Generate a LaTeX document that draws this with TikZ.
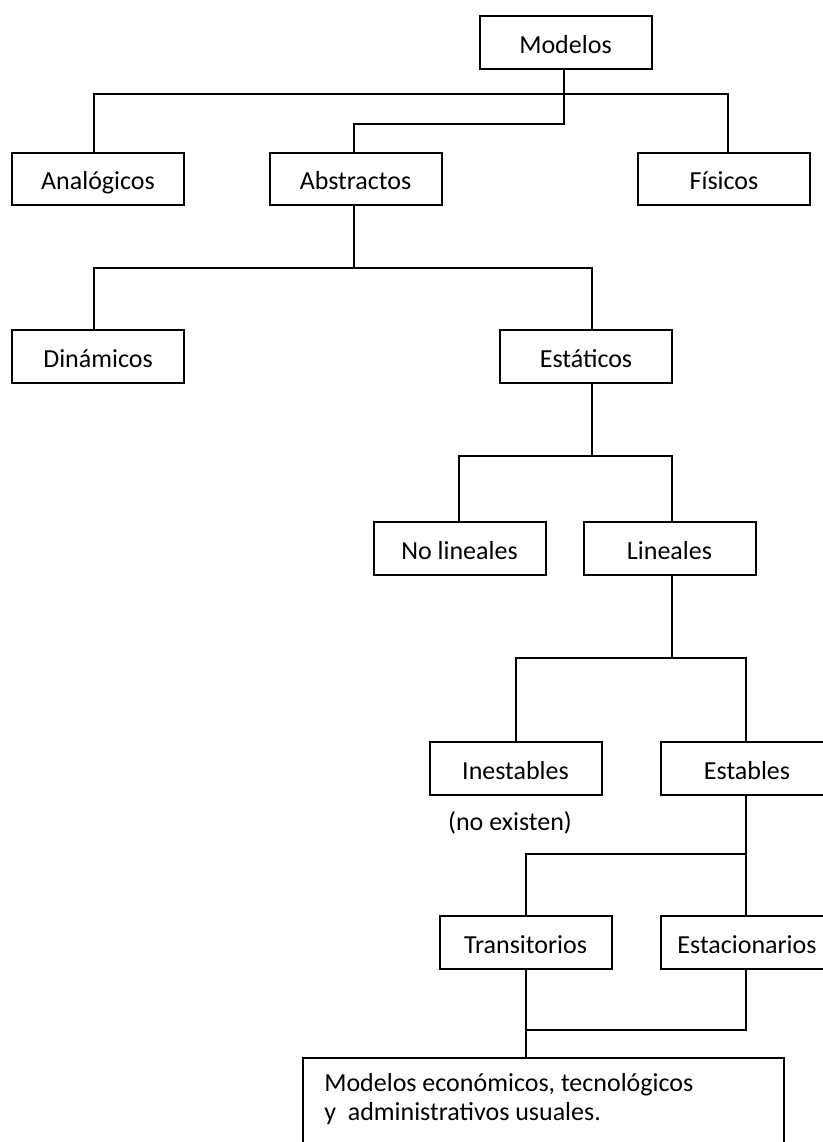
\documentclass[tikz,border=0pt]{standalone}
\usepackage{fontspec}
\setmainfont{Carlito}
\begin{document}
\begin{tikzpicture}[x=0.75pt,y=-0.75pt,
  box/.style={draw,line width=1.5pt,minimum width=129pt,minimum height=39.5pt,inner sep=0pt,
    text height=19pt,text depth=2.8pt,
    font=\fontsize{19.5}{22}\selectfont},
  lbl/.style={inner sep=0pt,font=\fontsize{19.5}{22}\selectfont},
  conn/.style={line width=1.5pt}]
\useasboundingbox (0,0) rectangle (823,1142);
\clip (0,0) rectangle (823,1142);
% boxes
\node[box] (mod) at (565.5,42.5) {Modelos};
\node[box] (ana) at (98,179) {Analógicos};
\node[box] (abs) at (355.5,179) {Abstractos};
\node[box] (fis) at (724,179) {Físicos};
\node[box] (din) at (98,356.5) {Dinámicos};
\node[box] (est) at (586,356.5) {Estáticos};
\node[box] (nol) at (459.5,548.5) {No lineales};
\node[box] (lin) at (669.5,548.5) {Lineales};
\node[box] (ine) at (515.5,768.5) {Inestables};
\node[box] (esb) at (747,768.5) {Estables};
\node[box] (tra) at (525.5,942.5) {Transitorios};
\node[box] (eso) at (747,942.5) {Estacionarios};
\node[lbl] (noex) at (510,823) {(no existen)};
\node[draw,line width=1.5pt,anchor=north west,minimum width=360.75pt,minimum height=90pt,inner sep=0pt] (usu) at (302,1057) {};
\node[lbl,anchor=west,align=left] (usutxt) at (324,1099) {Modelos económicos, tecnológicos\\y\ \ administrativos usuales.};
% junction coordinates
\coordinate (j1) at (564,94);
\coordinate (j2) at (564,124);
\coordinate (j3) at (354,268);
\coordinate (j4) at (592,456);
\coordinate (j5) at (672,658);
\coordinate (j6) at (746,854);
\coordinate (j7) at (526,1030);
% connectors
\draw[conn] (mod.south -| j1) -- (j2) -| (abs.north -| 354,0);
\draw[conn] (ana.north -| 94,0) |- (j1) -| (fis.north -| 728,0);
\draw[conn] (abs.south -| j3) -- (j3);
\draw[conn] (din.north -| 94,0) |- (j3) -| (est.north -| 592,0);
\draw[conn] (est.south -| j4) -- (j4);
\draw[conn] (nol.north -| 459,0) |- (j4) -| (lin.north -| 672,0);
\draw[conn] (lin.south -| j5) -- (j5);
\draw[conn] (ine.north -| 516,0) |- (j5) -| (esb.north -| 746,0);
\draw[conn] (esb.south -| j6) -- (eso.north -| j6);
\draw[conn] (j6) -| (tra.north -| 526,0);
\draw[conn] (tra.south -| j7) -- (usu.north -| j7);
\draw[conn] (eso.south -| 746,0) |- (j7);
\end{tikzpicture}
\end{document}
